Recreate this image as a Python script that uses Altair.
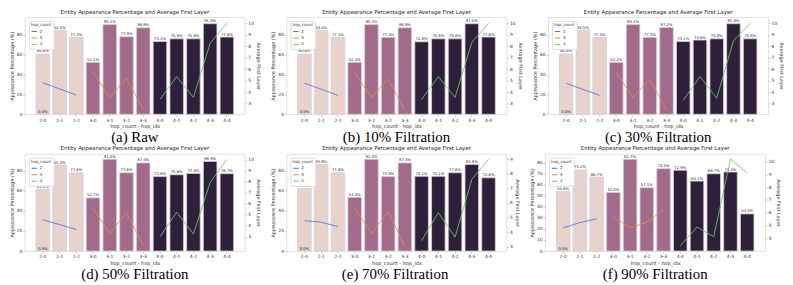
import altair as alt
import pandas as pd

categories = ["2-0", "2-1", "2-2", "3-0", "3-1", "3-2", "3-3", "4-0", "4-1", "4-2", "4-3", "4-4"]
hops = ["2", "2", "2", "3", "3", "3", "3", "4", "4", "4", "4", "4"]

captions = ["(a) Raw", "(b) 10% Filtration", "(c) 30% Filtration",
            "(d) 50% Filtration", "(e) 70% Filtration", "(f) 90% Filtration"]

pct_raw = [60.6, 84.5, 77.3, 52.2, 90.1, 77.9, 86.9, 73.1, 75.8, 75.8, 91.0, 77.6]
pct_10 = [60.6, 84.5, 77.3, 52.2, 90.1, 77.3, 86.9, 72.8, 75.8, 75.8, 91.0, 77.6]
pct_30 = [60.6, 84.5, 77.3, 52.2, 90.1, 77.3, 87.2, 73.1, 74.6, 75.8, 91.0, 75.8]
pct_50 = [61.3, 85.3, 77.6, 52.7, 91.0, 77.6, 87.4, 73.8, 75.6, 77.0, 88.9, 76.7]
pct_70 = [61.9, 85.9, 77.6, 53.3, 91.0, 73.8, 87.4, 74.1, 74.1, 77.6, 85.9, 72.6]
pct_90 = [53.6, 73.2, 66.7, 52.8, 82.7, 57.1, 74.3, 72.9, 63.1, 69.7, 71.3, 33.5]

fl_raw = [4.81, 4.28, 3.75, 5.74, 3.54, 5.20, 2.50, 3.36, 5.35, 3.54, 8.25, 10.0]
fl_10 = [4.78, 4.25, 3.72, 5.69, 3.54, 5.12, 2.46, 3.36, 5.35, 3.54, 8.32, 10.0]
fl_30 = [4.76, 4.24, 3.72, 5.69, 3.54, 5.12, 2.46, 3.28, 5.35, 3.47, 8.45, 10.0]
fl_50 = [4.54, 4.10, 3.65, 5.57, 3.32, 5.16, 2.24, 3.00, 5.22, 3.24, 7.92, 10.0]
fl_70 = [4.79, 4.68, 4.38, 5.67, 3.92, 5.42, 3.04, 3.41, 5.34, 3.66, 7.62, 9.0]
fl_90 = [4.81, 5.23, 5.52, 5.71, 4.81, 5.26, 6.25, 3.41, 4.88, 4.12, 10.2, 9.1]

left_domains = [[0, 97.6], [0, 97.6], [0, 97.6], [0, 96.3], [0, 96.3], [0, 87.6]]
right_domains = [[2.07, 10.52], [2.07, 10.52], [2.07, 10.52], [1.7, 10.5], [2.7, 9.37], [3.0, 10.6]]
left_ticks = [[0, 20, 40, 60, 80]] * 5 + [[0, 10, 20, 30, 40, 50, 60, 70, 80]]
right_ticks = [[3, 4, 5, 6, 7, 8, 9, 10]] * 4 + [[3, 4, 5, 6, 7, 8, 9]] + [[4, 5, 6, 7, 8, 9, 10]]

all_pct = [pct_raw, pct_10, pct_30, pct_50, pct_70, pct_90]
all_fl = [fl_raw, fl_10, fl_30, fl_50, fl_70, fl_90]

bar_colors = {"2": "#e8d2cd", "3": "#a26b8c", "4": "#2e1f3a"}
line_colors = ["#4878d0", "#ee854a", "#6acc64"]

W, H = 222, 98
FONT = "DejaVu Sans"


def panel(i):
    df = pd.DataFrame({"cat": categories, "hop": hops, "pct": all_pct[i], "fl": all_fl[i]})
    df["label"] = df["pct"].map(lambda v: f"{v:.1f}%")
    df["bc"] = df["hop"].map(bar_colors)
    zero = pd.DataFrame({"cat": [categories[0]], "pct": [0.0], "label": ["0.0%"]})

    xenc = alt.X("cat:N", sort=categories,
                 scale=alt.Scale(paddingInner=0.19, paddingOuter=0.67),
                 axis=alt.Axis(title="hop_count - hop_idx", labelAngle=0))
    yenc = alt.Y("pct:Q",
                 scale=alt.Scale(domain=left_domains[i], nice=False, zero=True),
                 axis=alt.Axis(title="Appearance Percentage (%)", values=left_ticks[i]))
    base = alt.Chart(df)
    bars = base.mark_bar(stroke="#d6ccd6", strokeWidth=0.8).encode(
        x=xenc, y=yenc, color=alt.Color("bc:N", scale=None))
    texts = base.mark_text(dy=-2.5, fontSize=3.8, font=FONT, color="#222").encode(
        x=xenc, y=yenc, text="label:N")
    ztext = alt.Chart(zero).mark_text(dy=-2.5, fontSize=3.8, font=FONT, color="#222").encode(
        x=xenc, y=yenc, text="label:N")
    lines = base.mark_line(strokeWidth=1, opacity=0.85).encode(
        x=xenc,
        y=alt.Y("fl:Q",
                scale=alt.Scale(domain=right_domains[i], nice=False, zero=False),
                axis=alt.Axis(orient="right", title="Average First Layer", values=right_ticks[i])),
        color=alt.Color("hop:N", scale=alt.Scale(domain=["2", "3", "4"], range=line_colors),
                        legend=alt.Legend(title="hop_count", orient="top-left")))
    left = alt.layer(bars, texts, ztext)
    chart = alt.layer(left, lines).resolve_scale(y="independent").properties(
        width=W, height=H,
        title=alt.Title("Entity Appearance Percentage and Average First Layer",
                        fontSize=5.5, fontWeight="normal", font=FONT, offset=2, color="#222"))
    return alt.vconcat(chart).properties(
        title=alt.Title(captions[i], orient="bottom", anchor="middle", font="Liberation Serif",
                        fontSize=15, fontWeight="normal", offset=1, color="#000")
    ).resolve_scale(color="independent", x="independent", y="independent")


row1 = alt.hconcat(panel(0), panel(1), panel(2), spacing=8).resolve_scale(
    color="independent", x="independent", y="independent")
row2 = alt.hconcat(panel(3), panel(4), panel(5), spacing=8).resolve_scale(
    color="independent", x="independent", y="independent")

chart = alt.vconcat(row1, row2, spacing=1).resolve_scale(
    color="independent", x="independent", y="independent"
).properties(padding=0).configure_view(stroke="#d9d9d9", strokeWidth=0.8).configure_axis(
    labelFontSize=4.5, titleFontSize=5, tickSize=2, labelPadding=1, titlePadding=2,
    domain=False, grid=False, labelColor="#333", titleColor="#333", tickColor="#999",
    labelFont=FONT, titleFont=FONT, titleFontWeight="normal", tickWidth=0.5
).configure_legend(
    labelFontSize=4, titleFontSize=4, titleFontWeight="normal", labelFont=FONT, titleFont=FONT,
    strokeColor="#dddddd", fillColor="white", padding=2, offset=4, symbolType="stroke",
    symbolStrokeWidth=1, symbolSize=30, rowPadding=0.5, titlePadding=1, labelOffset=2,
    cornerRadius=1, titleColor="#333", labelColor="#333"
).configure_concat(spacing=0)

chart.save("out.html", embed_options={"renderer": "svg", "actions": False})
